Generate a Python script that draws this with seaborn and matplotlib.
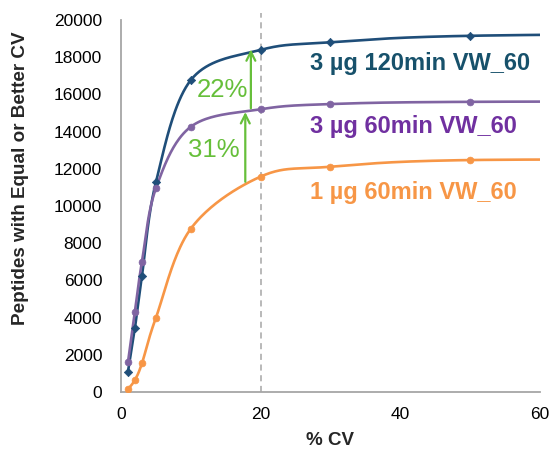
import numpy as np
import pandas as pd
import matplotlib
matplotlib.use("Agg")
import matplotlib.pyplot as plt
import seaborn as sns

# ---- data ----
cv = [1, 2, 3, 5, 10, 20, 30, 50, 100]
blue_120 = [1090, 3460, 6240, 11270, 16770, 18390, 18800, 19150, 19300]
purple_60 = [1600, 4320, 7000, 10950, 14260, 15200, 15480, 15600, 15620]
orange_1ug = [150, 650, 1540, 3990, 8780, 11580, 12110, 12470, 12480]
series_names = ["3 µg 120min VW_60", "3 µg 60min VW_60", "1 µg 60min VW_60"]
x_ticks = [0, 20, 40, 60]
y_ticks = list(range(0, 20001, 2000))
pct_labels = ["22%", "31%"]

line_colors = ["#1F4E79", "#8064A2", "#F79646"]
text_colors = ["#17516B", "#7030A0", "#F79646"]
green = "#66BF3A"


def smooth(xs, ys, n=40):
    """Excel-style smoothed line (Catmull-Rom Bezier)."""
    P = np.column_stack([xs, ys]).astype(float)
    out = []
    for i in range(len(P) - 1):
        p0 = P[i - 1] if i > 0 else P[i]
        p1, p2 = P[i], P[i + 1]
        p3 = P[i + 2] if i + 2 < len(P) else P[i + 1]
        c1 = p1 + (p2 - p0) / 6.0
        c2 = p2 - (p3 - p1) / 6.0
        t = np.linspace(0, 1, n, endpoint=(i == len(P) - 2))[:, None]
        seg = ((1 - t) ** 3) * p1 + 3 * ((1 - t) ** 2) * t * c1 + 3 * (1 - t) * t ** 2 * c2 + t ** 3 * p2
        out.append(seg)
    out = np.vstack(out)
    return out[:, 0], out[:, 1]


sns.set_style("white")
plt.rcParams["font.family"] = ["Liberation Sans", "DejaVu Sans"]

fig = plt.figure(figsize=(5.56, 4.51), dpi=100)
ax = fig.add_axes([0.2176, 0.1308, 0.7536, 0.8249])

series = [blue_120, purple_60, orange_1ug]
markers = ["D", "o", "o"]
msizes = [18, 24, 24]
for vals, col, mk, ms in zip(series, line_colors, markers, msizes):
    sx, sy = smooth(cv, vals)
    sns.lineplot(x=sx, y=sy, sort=False, color=col, lw=1.9, ax=ax, estimator=None)
    sns.scatterplot(x=cv, y=vals, color=col, marker=mk, s=ms, edgecolor=col, linewidth=0.5, ax=ax, zorder=3)

ax.set_xlim(0, 60)
ax.set_ylim(0, 20000)
ax.set_xticks(x_ticks)
ax.set_yticks(y_ticks)
ax.tick_params(axis="both", direction="out", length=5, width=1.2, color="#A6A6A6",
               labelsize=12.5, labelcolor="black")
ax.tick_params(axis="x", pad=6)
ax.tick_params(axis="y", pad=8.5)
for s in ["top", "right"]:
    ax.spines[s].set_visible(False)
for s in ["left", "bottom"]:
    ax.spines[s].set_color("#A6A6A6")
    ax.spines[s].set_linewidth(1.3)

ax.set_xlabel("% CV", fontsize=13.5, fontweight="bold")
ax.set_ylabel("Peptides with Equal or Better CV", fontsize=13.6, fontweight="bold")
ax.xaxis.set_label_coords(0.5, -0.108)
ax.yaxis.set_label_coords(-0.219, 0.575)

# dashed reference line at 20% CV
ax.plot([20, 20], [0, 20400], ls=(0, (4, 3)), color="#A6A6A6", lw=1.1, clip_on=False, zorder=1)

# green arrows
ax.annotate("", xy=(17.8, 15050), xytext=(17.8, 11300),
            arrowprops=dict(arrowstyle="->", color=green, lw=1.6, mutation_scale=16, shrinkA=0, shrinkB=0))
ax.annotate("", xy=(18.6, 18420), xytext=(18.6, 15250),
            arrowprops=dict(arrowstyle="->", color=green, lw=1.6, mutation_scale=16, shrinkA=0, shrinkB=0))
ax.text(14.5, 16220, pct_labels[0], color=green, fontsize=18.5, ha="center", va="center")
ax.text(13.3, 13030, pct_labels[1], color=green, fontsize=18.5, ha="center", va="center")

# series labels
label_y = [17670, 14250, 10740]
for name, col, yy in zip(series_names, text_colors, label_y):
    ax.text(27.1, yy, name, color=col, fontsize=17, fontweight="bold", ha="left", va="center")

fig.savefig("out.png", dpi=100)
